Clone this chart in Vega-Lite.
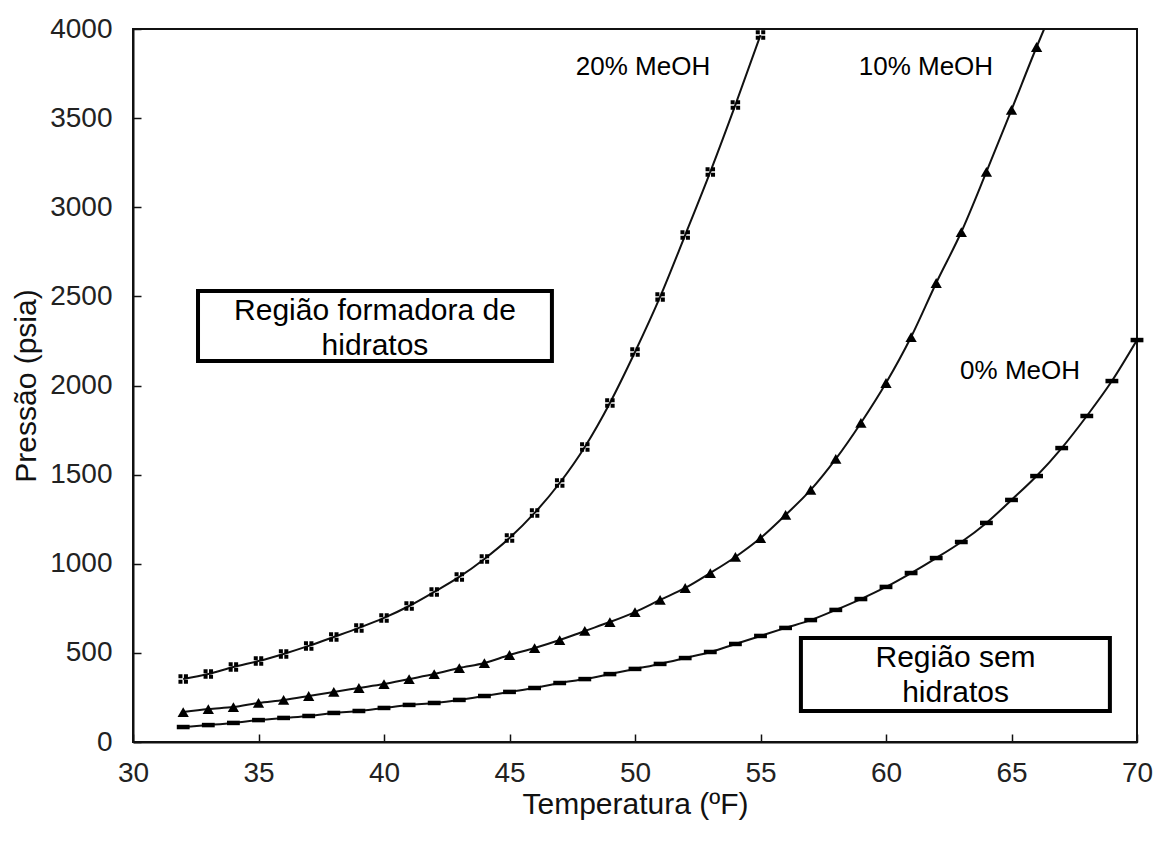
{
  "$schema": "https://vega.github.io/schema/vega-lite/v6.json",
  "width": 1004,
  "height": 713,
  "autosize": {"type": "none"},
  "padding": {"left": 133, "top": 29, "right": 21, "bottom": 105},
  "background": "white",
  "config": {
    "view": {"stroke": "#111", "strokeWidth": 2},
    "font": "Liberation Sans",
    "axis": {
      "grid": false,
      "domainColor": "#111",
      "domainWidth": 2,
      "tickColor": "#111",
      "tickWidth": 1.5,
      "tickSize": -8,
      "labelFlush": false,
      "labelFont": "Liberation Sans",
      "labelFontSize": 28,
      "labelColor": "#222",
      "titleFont": "Liberation Sans",
      "titleFontSize": 30,
      "titleFontWeight": "normal",
      "titleColor": "#111"
    }
  },
  "datasets": {
    "curves": [
      {"series": "20% MeOH", "T": 32, "P": 353, "marker": true},
      {"series": "20% MeOH", "T": 33, "P": 381, "marker": true},
      {"series": "20% MeOH", "T": 34, "P": 421, "marker": true},
      {"series": "20% MeOH", "T": 35, "P": 454, "marker": true},
      {"series": "20% MeOH", "T": 36, "P": 494, "marker": true},
      {"series": "20% MeOH", "T": 37, "P": 539, "marker": true},
      {"series": "20% MeOH", "T": 38, "P": 589, "marker": true},
      {"series": "20% MeOH", "T": 39, "P": 640, "marker": true},
      {"series": "20% MeOH", "T": 40, "P": 696, "marker": true},
      {"series": "20% MeOH", "T": 41, "P": 763, "marker": true},
      {"series": "20% MeOH", "T": 42, "P": 842, "marker": true},
      {"series": "20% MeOH", "T": 43, "P": 926, "marker": true},
      {"series": "20% MeOH", "T": 44, "P": 1027, "marker": true},
      {"series": "20% MeOH", "T": 45, "P": 1144, "marker": true},
      {"series": "20% MeOH", "T": 46, "P": 1285, "marker": true},
      {"series": "20% MeOH", "T": 47, "P": 1453, "marker": true},
      {"series": "20% MeOH", "T": 48, "P": 1655, "marker": true},
      {"series": "20% MeOH", "T": 49, "P": 1902, "marker": true},
      {"series": "20% MeOH", "T": 50, "P": 2188, "marker": true},
      {"series": "20% MeOH", "T": 51, "P": 2497, "marker": true},
      {"series": "20% MeOH", "T": 52, "P": 2844, "marker": true},
      {"series": "20% MeOH", "T": 53, "P": 3198, "marker": true},
      {"series": "20% MeOH", "T": 54, "P": 3574, "marker": true},
      {"series": "20% MeOH", "T": 55, "P": 3966, "marker": true},
      {"series": "10% MeOH", "T": 32, "P": 168, "marker": true},
      {"series": "10% MeOH", "T": 33, "P": 185, "marker": true},
      {"series": "10% MeOH", "T": 34, "P": 196, "marker": true},
      {"series": "10% MeOH", "T": 35, "P": 219, "marker": true},
      {"series": "10% MeOH", "T": 36, "P": 236, "marker": true},
      {"series": "10% MeOH", "T": 37, "P": 258, "marker": true},
      {"series": "10% MeOH", "T": 38, "P": 281, "marker": true},
      {"series": "10% MeOH", "T": 39, "P": 303, "marker": true},
      {"series": "10% MeOH", "T": 40, "P": 325, "marker": true},
      {"series": "10% MeOH", "T": 41, "P": 353, "marker": true},
      {"series": "10% MeOH", "T": 42, "P": 381, "marker": true},
      {"series": "10% MeOH", "T": 43, "P": 415, "marker": true},
      {"series": "10% MeOH", "T": 44, "P": 443, "marker": true},
      {"series": "10% MeOH", "T": 45, "P": 488, "marker": true},
      {"series": "10% MeOH", "T": 46, "P": 527, "marker": true},
      {"series": "10% MeOH", "T": 47, "P": 572, "marker": true},
      {"series": "10% MeOH", "T": 48, "P": 623, "marker": true},
      {"series": "10% MeOH", "T": 49, "P": 673, "marker": true},
      {"series": "10% MeOH", "T": 50, "P": 729, "marker": true},
      {"series": "10% MeOH", "T": 51, "P": 797, "marker": true},
      {"series": "10% MeOH", "T": 52, "P": 864, "marker": true},
      {"series": "10% MeOH", "T": 53, "P": 948, "marker": true},
      {"series": "10% MeOH", "T": 54, "P": 1038, "marker": true},
      {"series": "10% MeOH", "T": 55, "P": 1144, "marker": true},
      {"series": "10% MeOH", "T": 56, "P": 1274, "marker": true},
      {"series": "10% MeOH", "T": 57, "P": 1414, "marker": true},
      {"series": "10% MeOH", "T": 58, "P": 1588, "marker": true},
      {"series": "10% MeOH", "T": 59, "P": 1790, "marker": true},
      {"series": "10% MeOH", "T": 60, "P": 2014, "marker": true},
      {"series": "10% MeOH", "T": 61, "P": 2272, "marker": true},
      {"series": "10% MeOH", "T": 62, "P": 2575, "marker": true},
      {"series": "10% MeOH", "T": 63, "P": 2861, "marker": true},
      {"series": "10% MeOH", "T": 64, "P": 3198, "marker": true},
      {"series": "10% MeOH", "T": 65, "P": 3546, "marker": true},
      {"series": "10% MeOH", "T": 66, "P": 3899, "marker": true},
      {"series": "10% MeOH", "T": 66.3, "P": 4000, "marker": false},
      {"series": "0% MeOH", "T": 32, "P": 84, "marker": true},
      {"series": "0% MeOH", "T": 33, "P": 95, "marker": true},
      {"series": "0% MeOH", "T": 34, "P": 107, "marker": true},
      {"series": "0% MeOH", "T": 35, "P": 123, "marker": true},
      {"series": "0% MeOH", "T": 36, "P": 135, "marker": true},
      {"series": "0% MeOH", "T": 37, "P": 146, "marker": true},
      {"series": "0% MeOH", "T": 38, "P": 163, "marker": true},
      {"series": "0% MeOH", "T": 39, "P": 174, "marker": true},
      {"series": "0% MeOH", "T": 40, "P": 191, "marker": true},
      {"series": "0% MeOH", "T": 41, "P": 208, "marker": true},
      {"series": "0% MeOH", "T": 42, "P": 219, "marker": true},
      {"series": "0% MeOH", "T": 43, "P": 236, "marker": true},
      {"series": "0% MeOH", "T": 44, "P": 258, "marker": true},
      {"series": "0% MeOH", "T": 45, "P": 281, "marker": true},
      {"series": "0% MeOH", "T": 46, "P": 303, "marker": true},
      {"series": "0% MeOH", "T": 47, "P": 331, "marker": true},
      {"series": "0% MeOH", "T": 48, "P": 353, "marker": true},
      {"series": "0% MeOH", "T": 49, "P": 381, "marker": true},
      {"series": "0% MeOH", "T": 50, "P": 410, "marker": true},
      {"series": "0% MeOH", "T": 51, "P": 438, "marker": true},
      {"series": "0% MeOH", "T": 52, "P": 471, "marker": true},
      {"series": "0% MeOH", "T": 53, "P": 505, "marker": true},
      {"series": "0% MeOH", "T": 54, "P": 550, "marker": true},
      {"series": "0% MeOH", "T": 55, "P": 595, "marker": true},
      {"series": "0% MeOH", "T": 56, "P": 640, "marker": true},
      {"series": "0% MeOH", "T": 57, "P": 684, "marker": true},
      {"series": "0% MeOH", "T": 58, "P": 741, "marker": true},
      {"series": "0% MeOH", "T": 59, "P": 802, "marker": true},
      {"series": "0% MeOH", "T": 60, "P": 870, "marker": true},
      {"series": "0% MeOH", "T": 61, "P": 948, "marker": true},
      {"series": "0% MeOH", "T": 62, "P": 1032, "marker": true},
      {"series": "0% MeOH", "T": 63, "P": 1122, "marker": true},
      {"series": "0% MeOH", "T": 64, "P": 1229, "marker": true},
      {"series": "0% MeOH", "T": 65, "P": 1358, "marker": true},
      {"series": "0% MeOH", "T": 66, "P": 1492, "marker": true},
      {"series": "0% MeOH", "T": 67, "P": 1649, "marker": true},
      {"series": "0% MeOH", "T": 68, "P": 1829, "marker": true},
      {"series": "0% MeOH", "T": 69, "P": 2025, "marker": true},
      {"series": "0% MeOH", "T": 70, "P": 2255, "marker": true}
    ],
    "boxes": [
      {"x1": 32.59, "x2": 46.69, "y1": 2137, "y2": 2530, "tx": 39.64, "ty": 2418, "label": "Região formadora de\nhidratos"},
      {"x1": 56.61, "x2": 68.92, "y1": 174, "y2": 583, "tx": 62.77, "ty": 471, "label": "Região sem\nhidratos"}
    ],
    "notes": [
      {"tx": 50.32, "ty": 3787, "label": "20% MeOH"},
      {"tx": 61.59, "ty": 3787, "label": "10% MeOH"},
      {"tx": 65.34, "ty": 2081, "label": "0% MeOH"}
    ]
  },
  "layer": [
    {
      "data": {"name": "boxes"},
      "mark": {"type": "rect", "fill": "white", "stroke": "#000", "strokeWidth": 4},
      "encoding": {
        "x": {"field": "x1", "type": "quantitative", "scale": {"domain": [30, 70], "nice": false, "zero": false}, "axis": {"values": [30, 35, 40, 45, 50, 55, 60, 65, 70], "title": "Temperatura (ºF)", "labelPadding": 25, "titlePadding": 2}},
        "x2": {"field": "x2"},
        "y": {"field": "y1", "type": "quantitative", "scale": {"domain": [0, 4000], "nice": false, "zero": true}, "axis": {"values": [0, 500, 1000, 1500, 2000, 2500, 3000, 3500, 4000], "format": "d", "title": "Pressão (psia)", "labelPadding": 29, "titlePadding": 8}},
        "y2": {"field": "y2"}
      }
    },
    {
      "data": {"name": "boxes"},
      "mark": {"type": "text", "fontSize": 30, "font": "Liberation Sans", "color": "#000", "lineBreak": "\n", "lineHeight": 35, "align": "center", "baseline": "middle"},
      "encoding": {
        "x": {"field": "tx", "type": "quantitative"},
        "y": {"field": "ty", "type": "quantitative"},
        "text": {"field": "label"}
      }
    },
    {
      "data": {"name": "curves"},
      "mark": {"type": "line", "color": "#111", "strokeWidth": 2, "interpolate": "monotone", "clip": true},
      "encoding": {
        "x": {"field": "T", "type": "quantitative"},
        "y": {"field": "P", "type": "quantitative"},
        "detail": {"field": "series"}
      }
    },
    {
      "data": {"name": "curves"},
      "transform": [{"filter": "datum.marker"}],
      "mark": {"type": "point", "filled": true, "color": "#000", "opacity": 1},
      "encoding": {
        "x": {"field": "T", "type": "quantitative"},
        "y": {"field": "P", "type": "quantitative"},
        "shape": {
          "field": "series",
          "type": "nominal",
          "scale": {
            "domain": ["20% MeOH", "10% MeOH", "0% MeOH"],
            "range": [
              "M-1,-1H-0.15V-0.15H-1Z M0.15,-1H1V-0.15H0.15Z M-1,0.15H-0.15V1H-1Z M0.15,0.15H1V1H0.15Z",
              "triangle-up",
              "M-1,-0.35H1V0.35H-1Z"
            ]
          },
          "legend": null
        },
        "size": {
          "field": "series",
          "type": "nominal",
          "scale": {"domain": ["20% MeOH", "10% MeOH", "0% MeOH"], "range": [90, 165, 75]},
          "legend": null
        }
      }
    },
    {
      "data": {"name": "notes"},
      "mark": {"type": "text", "fontSize": 26, "font": "Liberation Sans", "color": "#000", "align": "center", "baseline": "middle"},
      "encoding": {
        "x": {"field": "tx", "type": "quantitative"},
        "y": {"field": "ty", "type": "quantitative"},
        "text": {"field": "label"}
      }
    }
  ]
}
